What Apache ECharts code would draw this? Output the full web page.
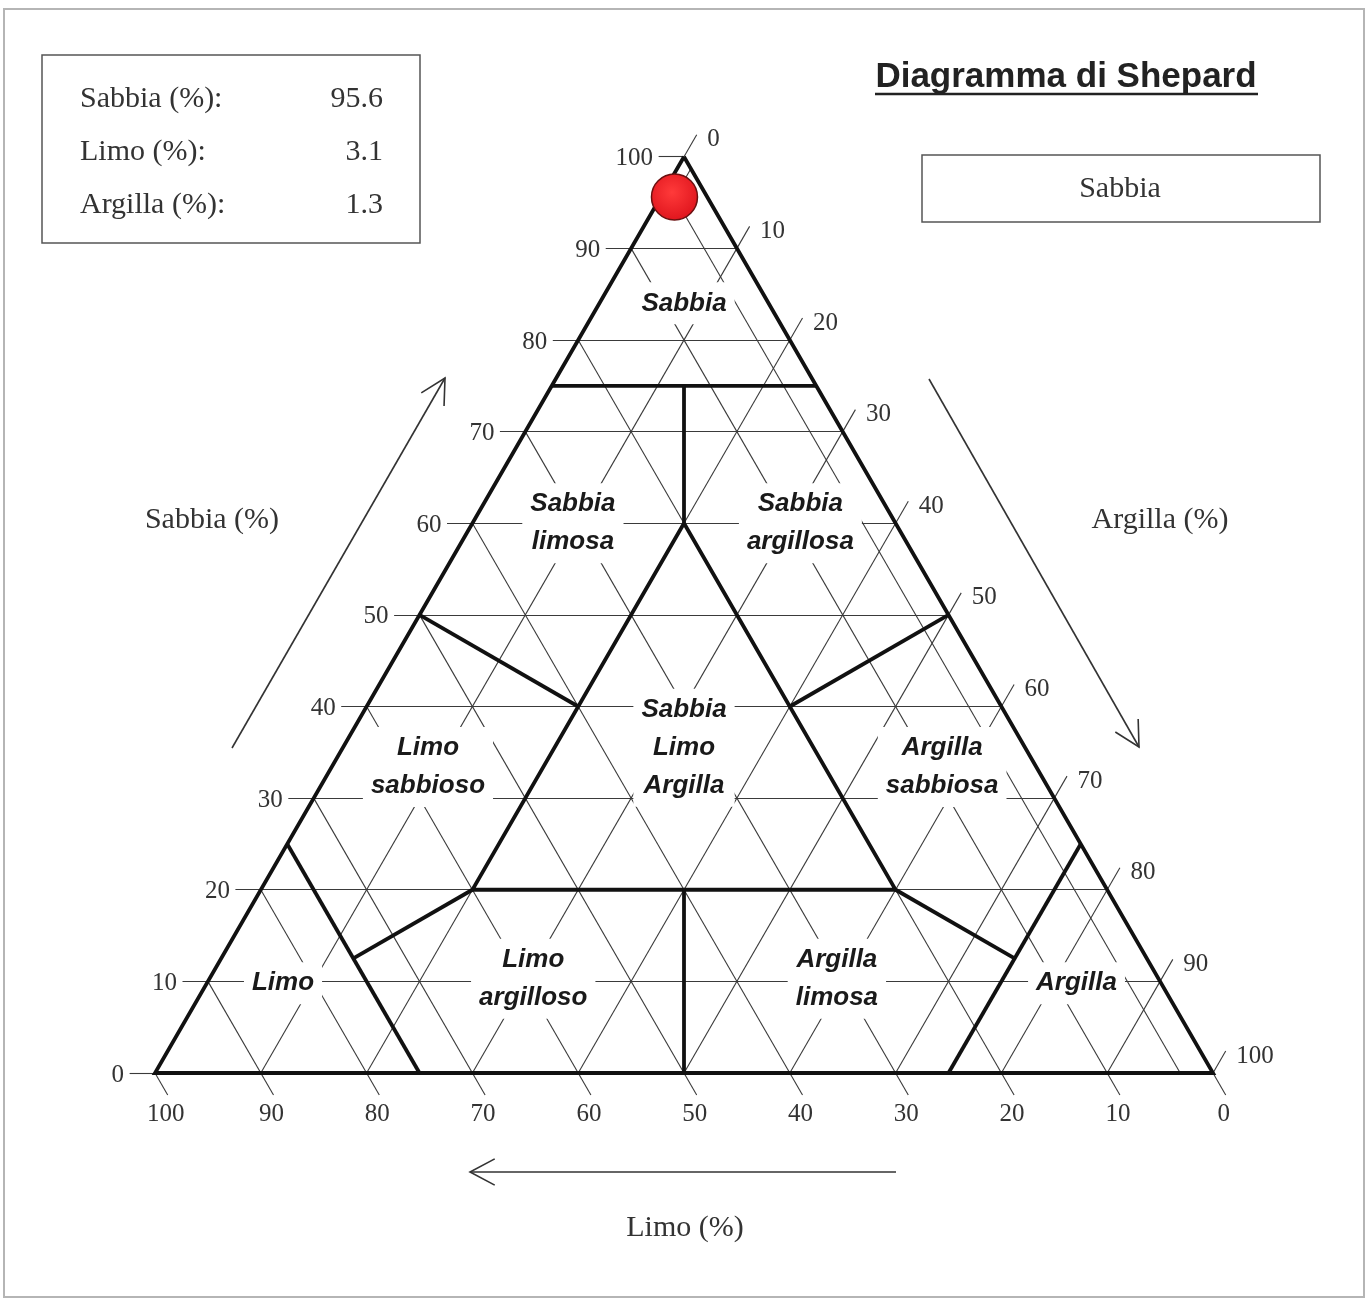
<!DOCTYPE html>
<html>
<head>
<meta charset="utf-8">
<title>Diagramma di Shepard</title>
<script src="https://cdn.jsdelivr.net/npm/echarts@6/dist/echarts.min.js"></script>
<style>
html, body { margin: 0; padding: 0; background: #fff; }
#chart { width: 1371px; height: 1299px; }
</style>
</head>
<body>
<div id="chart"></div>
<script>
// campione
var campioneNomi = ['Sabbia (%):', 'Limo (%):', 'Argilla (%):'];
var campioneValori = [95.6, 3.1, 1.3];   // sabbia, limo, argilla
var classe = 'Sabbia';

// tacche sui tre lati
var tacche = [0, 10, 20, 30, 40, 50, 60, 70, 80, 90, 100];

// punti in [sabbia, limo, argilla]
var triangolo = [[100, 0, 0], [0, 100, 0], [0, 0, 100], [100, 0, 0]];
var confini = [
    [[75, 25, 0], [75, 0, 25]],
    [[75, 12.5, 12.5], [60, 20, 20]],
    [[60, 20, 20], [20, 60, 20], [20, 20, 60], [60, 20, 20]],
    [[50, 50, 0], [40, 40, 20]],
    [[50, 0, 50], [40, 20, 40]],
    [[25, 75, 0], [0, 75, 25]],
    [[25, 0, 75], [0, 25, 75]],
    [[20, 60, 20], [12.5, 75, 12.5]],
    [[20, 20, 60], [12.5, 12.5, 75]],
    [[20, 40, 40], [0, 50, 50]]
];

var classiNomi = ['Sabbia', 'Sabbia\nlimosa', 'Sabbia\nargillosa', 'Sabbia\nLimo\nArgilla',
    'Limo\nsabbioso', 'Argilla\nsabbiosa', 'Limo', 'Limo\nargilloso', 'Argilla\nlimosa', 'Argilla'];
var classiPunti = [[84, 8, 8], [60, 30.5, 9.5], [60, 9, 31], [35.5, 32.25, 32.25],
    [33.4, 57.5, 9.1], [33.4, 8.9, 57.7], [9.8, 83, 7.2], [10.3, 59.1, 30.6],
    [10.3, 30.4, 59.3], [9.8, 8, 82.2]];

var SQ = Math.sqrt(3) / 2;
function xy(p) { return [p[2] + p[0] / 2, p[0] * SQ]; }

var K = 10.58, X0 = 155, Y0 = 1073, W = 1371, H = 1299;
var T = 2.4; // lunghezza tacca

var griglia = [];
var etSx = [], etDx = [], etBasso = [];
tacche.forEach(function (t) {
    var interno = t > 0 && t < 100;
    // sabbia costante
    var L = xy([t, 100 - t, 0]);
    var sEnd = [L[0] - T, L[1]];
    griglia.push({ coords: [sEnd, interno ? xy([t, 0, 100 - t]) : L] });
    etSx.push({ name: String(t), value: sEnd });
    // argilla costante
    var E = xy([100 - t, 0, t]);
    var aEnd = [E[0] + T / 2, E[1] + T * SQ];
    griglia.push({ coords: [interno ? xy([0, 100 - t, t]) : E, aEnd] });
    etDx.push({ name: String(t), value: aEnd });
    // limo costante
    var B = xy([0, t, 100 - t]);
    var lEnd = [B[0] + T / 2, B[1] - T * SQ];
    griglia.push({ coords: [interno ? xy([100 - t, t, 0]) : B, lEnd] });
    etBasso.push({ name: String(t), value: lEnd });
});

// linee di lettura del campione
var s = campioneValori[0], l = campioneValori[1], a = campioneValori[2];
var P = xy([s, l, a]);
griglia.push({ coords: [P, xy([s, 100 - s, 0])] });
griglia.push({ coords: [P, xy([0, l, 100 - l])] });
griglia.push({ coords: [P, xy([100 - a, 0, a])] });

var spessi = [triangolo].concat(confini).map(function (c) {
    return { coords: c.map(xy) };
});

var serif = 'Liberation Serif, Times New Roman, serif';
var sans = 'Liberation Sans, Arial, sans-serif';
var invisibile = { color: 'rgba(0,0,0,0)', opacity: 1 };

function tickSeries(data, pos, dist, off) {
    return {
        type: 'scatter', data: data, symbolSize: 1, silent: true, z: 5,
        itemStyle: invisibile,
        label: { show: true, position: pos, distance: dist, offset: off || [0, 0], formatter: '{b}',
            fontFamily: serif, fontSize: 25, color: '#333' }
    };
}

function freccia(da, a) {
    var dx = a[0] - da[0], dy = a[1] - da[1], n = Math.sqrt(dx * dx + dy * dy);
    var ux = dx / n, uy = dy / n, len = 28, ang = 28 * Math.PI / 180;
    function ala(sg) {
        var c = Math.cos(sg * ang), sn = Math.sin(sg * ang);
        return [a[0] - len * (ux * c - uy * sn), a[1] - len * (ux * sn + uy * c)];
    }
    var st = { stroke: '#333', lineWidth: 1.6, fill: null };
    return [
        { type: 'polyline', shape: { points: [da, a] }, style: st },
        { type: 'polyline', shape: { points: [ala(1), a, ala(-1)] }, style: st }
    ];
}

function testo(t, x, y, font, align) {
    return { type: 'text', x: x, y: y, style: { text: t, font: font, fill: '#333',
        textAlign: align || 'center', textVerticalAlign: 'middle' } };
}

var grafica = [
    { type: 'rect', shape: { x: 4, y: 9, width: 1360, height: 1288 },
        style: { fill: null, stroke: '#b5b5b5', lineWidth: 2 } },
    { type: 'rect', shape: { x: 42, y: 55, width: 378, height: 188 },
        style: { fill: null, stroke: '#555', lineWidth: 1.5 } },
    { type: 'rect', shape: { x: 922, y: 155, width: 398, height: 67 },
        style: { fill: null, stroke: '#555', lineWidth: 1.5 } },
    testo(classe, 1120, 189, '30px ' + serif),
    { type: 'text', x: 1066, y: 77, style: { text: 'Diagramma di Shepard',
        font: 'bold 35px ' + sans, fill: '#222', textAlign: 'center', textVerticalAlign: 'middle' } },
    { type: 'line', shape: { x1: 875, y1: 94, x2: 1258, y2: 94 },
        style: { stroke: '#222', lineWidth: 2.5 } },
    testo('Sabbia (%)', 212, 520, '30px ' + serif),
    testo('Argilla (%)', 1160, 520, '30px ' + serif),
    testo('Limo (%)', 685, 1228, '30px ' + serif)
];
campioneNomi.forEach(function (nome, i) {
    grafica.push(testo(nome, 80, 99 + i * 53, '30px ' + serif, 'left'));
    grafica.push(testo(String(campioneValori[i]), 383, 99 + i * 53, '30px ' + serif, 'right'));
});
grafica = grafica.concat(freccia([232, 748], [445, 378]))
    .concat(freccia([929, 379], [1139, 747]))
    .concat(freccia([896, 1172], [470, 1172]));

var chart = echarts.init(document.getElementById('chart'));
chart.setOption({
    animation: false,
    backgroundColor: '#fff',
    grid: { left: 0, right: 0, top: 0, bottom: 0 },
    xAxis: { type: 'value', min: -X0 / K, max: (W - X0) / K, show: false },
    yAxis: { type: 'value', min: -(H - Y0) / K, max: Y0 / K, show: false },
    graphic: grafica,
    series: [
        {
            type: 'lines', coordinateSystem: 'cartesian2d', data: griglia, silent: true, z: 1,
            lineStyle: { color: '#3a3a3a', width: 1.1, opacity: 1 }
        },
        {
            type: 'scatter', symbolSize: 1, silent: true, z: 2,
            itemStyle: invisibile,
            data: classiNomi.map(function (n, i) { return { name: n, value: xy(classiPunti[i]) }; }),
            label: { show: true, position: 'inside', formatter: '{b}', fontFamily: sans,
                fontSize: 26, fontWeight: 'bold', fontStyle: 'italic', color: '#1a1a1a',
                lineHeight: 38, backgroundColor: '#fff', padding: [2, 8] }
        },
        {
            type: 'lines', coordinateSystem: 'cartesian2d', polyline: true, data: spessi,
            silent: true, z: 3,
            lineStyle: { color: '#111', width: 3.8, opacity: 1, join: 'miter' }
        },
        tickSeries(etSx, 'left', 5, [0, 2]),
        tickSeries(etDx, 'right', 10, [0, 5]),
        tickSeries(etBasso, 'bottom', 4, [-2, 2]),
        {
            type: 'scatter', z: 6, symbolSize: 46, silent: true,
            data: [P],
            itemStyle: {
                opacity: 1,
                color: new echarts.graphic.RadialGradient(0.45, 0.4, 0.65, [
                    { offset: 0, color: '#ff3a3a' }, { offset: 1, color: '#dd121b' }]),
                borderColor: '#6b1010', borderWidth: 1.5
            }
        }
    ]
});
</script>
</body>
</html>
